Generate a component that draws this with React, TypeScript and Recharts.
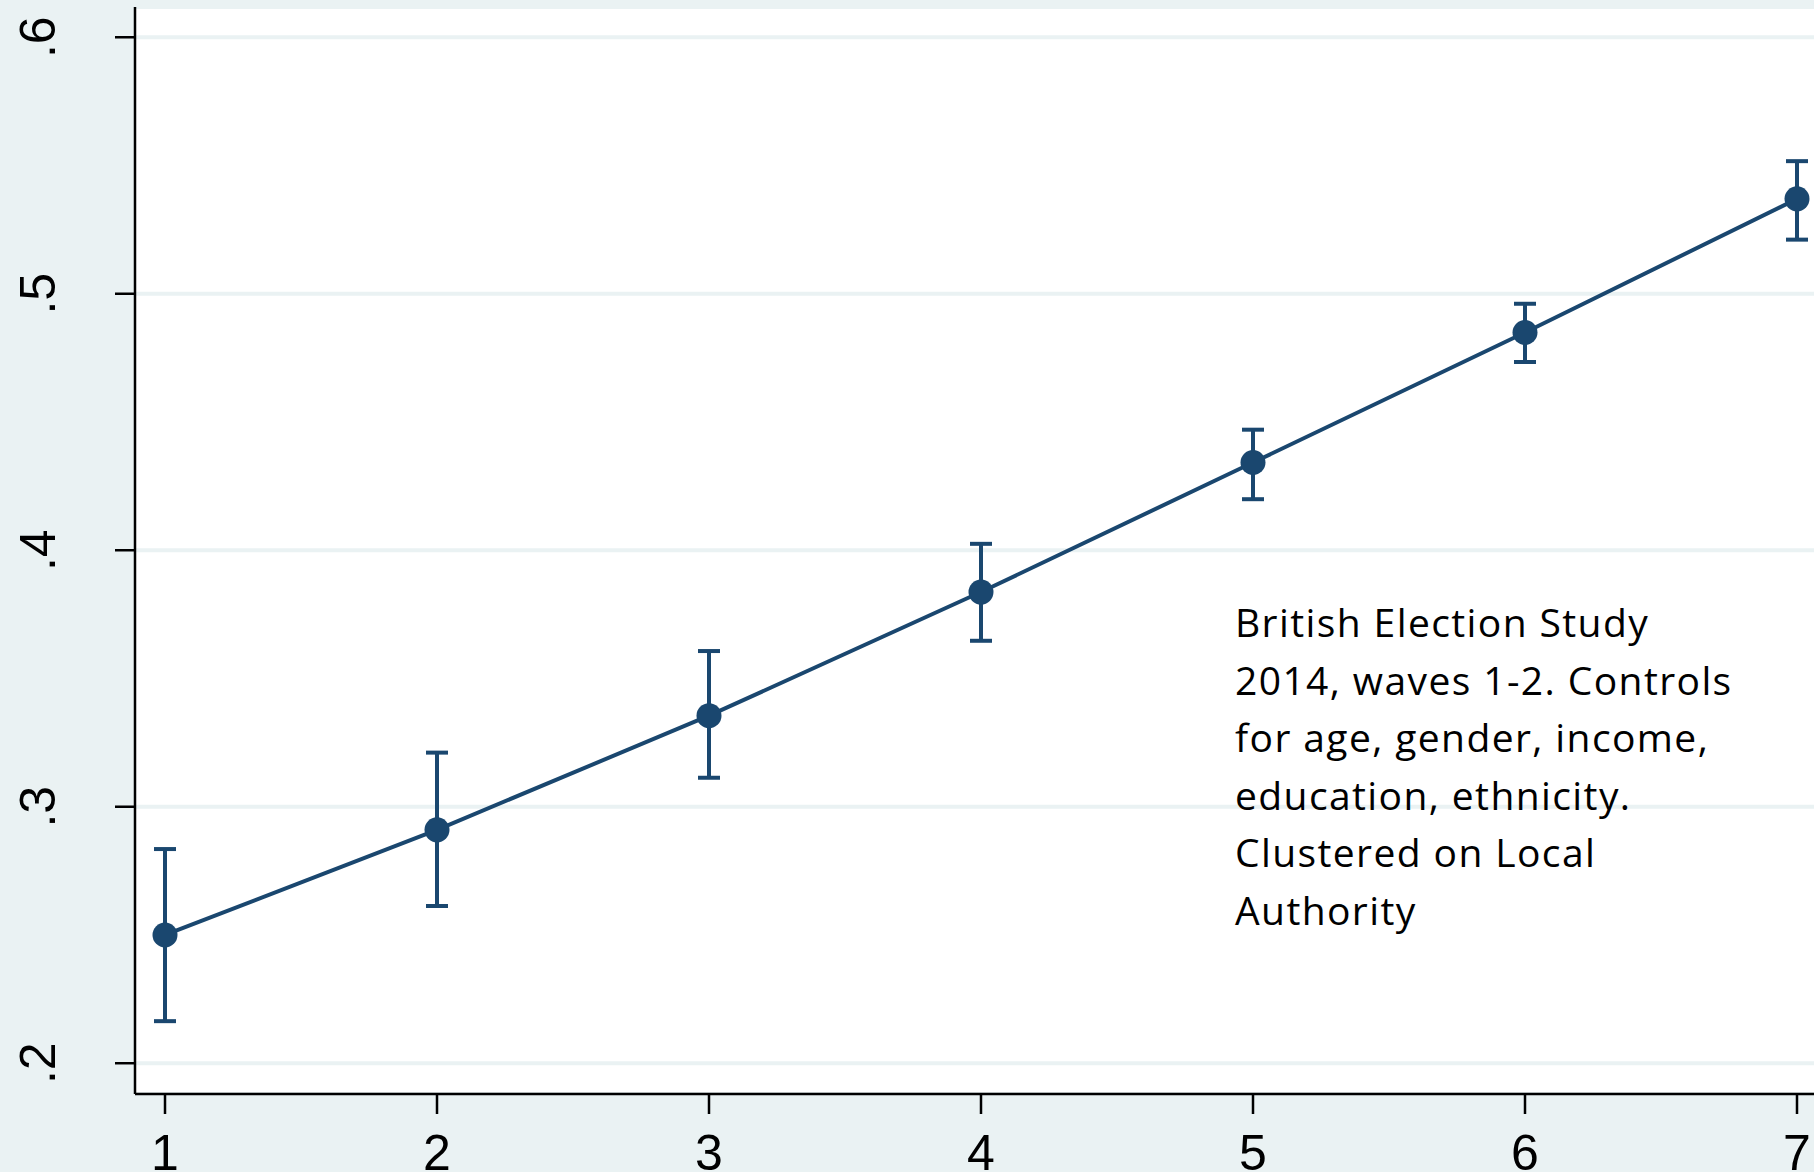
import React from 'react'
import { LineChart, Line, XAxis, YAxis, CartesianGrid, ErrorBar } from 'recharts'

// groups 1..7, predicted probability with 95% CI
const groups = [1, 2, 3, 4, 5, 6, 7]
const estimate = [0.25, 0.291, 0.3355, 0.3837, 0.4342, 0.4849, 0.537]
const lower = [0.2164, 0.2613, 0.3113, 0.3647, 0.4199, 0.4734, 0.5211]
const upper = [0.2835, 0.3211, 0.3607, 0.4025, 0.447, 0.4961, 0.5517]
const yTicks = [0.2, 0.3, 0.4, 0.5, 0.6]
const noteLines = [
  'British Election Study',
  '2014, waves 1-2. Controls',
  'for age, gender, income,',
  'education, ethnicity.',
  'Clustered on Local',
  'Authority',
]

const NAVY = '#1a476f'
const BG = '#eaf2f3'

const chartData = groups.map((g, i) => ({
  x: g,
  est: estimate[i],
  ci: [estimate[i] - lower[i], upper[i] - estimate[i]],
}))

const fmtY = (v: number) => v.toFixed(1).replace(/^0/, '')

function XTick({ x, y, payload }: any) {
  return (
    <text
      x={x}
      y={y + 54}
      textAnchor="middle"
      fontFamily="'Liberation Sans', Arial, sans-serif"
      fontSize={50}
      fill="#000"
    >
      {payload.value}
    </text>
  )
}

function YTick({ x, y, payload }: any) {
  return (
    <text
      transform={`translate(${x - 58}, ${y}) rotate(-90)`}
      textAnchor="middle"
      fontFamily="'Liberation Sans', Arial, sans-serif"
      fontSize={50}
      fill="#000"
    >
      {fmtY(payload.value)}
    </text>
  )
}

export default function App() {
  return (
    <div
      style={{
        position: 'absolute',
        left: 0,
        top: 0,
        width: 1814,
        height: 1172,
        overflow: 'hidden',
        background: BG,
      }}
    >
      <LineChart
        width={1827}
        height={1172}
        data={chartData}
        margin={{ top: 7, right: 0, left: 0, bottom: 0 }}
      >
        <CartesianGrid vertical={false} stroke={BG} strokeWidth={4} fill="#ffffff" />
        <XAxis
          dataKey="x"
          type="number"
          domain={[0.8897, 7.1103]}
          ticks={groups}
          allowDataOverflow
          height={78}
          tickSize={20}
          axisLine={{ stroke: '#000', strokeWidth: 2.5 }}
          tickLine={{ stroke: '#000', strokeWidth: 2.5 }}
          tick={<XTick />}
        />
        <YAxis
          type="number"
          domain={[0.188, 0.6118]}
          ticks={yTicks}
          allowDataOverflow
          width={135}
          tickSize={20}
          axisLine={{ stroke: '#000', strokeWidth: 2.5 }}
          tickLine={{ stroke: '#000', strokeWidth: 2.5 }}
          tick={<YTick />}
        />
        <Line
          dataKey="est"
          stroke={NAVY}
          strokeWidth={4}
          dot={{ r: 12.5, fill: NAVY, stroke: NAVY, strokeWidth: 0 }}
          activeDot={false}
          isAnimationActive={false}
        >
          <ErrorBar
            dataKey="ci"
            direction="y"
            width={11}
            stroke={NAVY}
            strokeWidth={4}
            isAnimationActive={false}
          />
        </Line>
      </LineChart>
      <div
        style={{
          position: 'absolute',
          left: 1235,
          top: 593,
          fontFamily: "'Open Sans', sans-serif",
          fontSize: 39,
          letterSpacing: '1.4px',
          lineHeight: '57.6px',
          color: '#000',
          whiteSpace: 'nowrap',
        }}
      >
        {noteLines.map((l) => (
          <div key={l}>{l}</div>
        ))}
      </div>
    </div>
  )
}
